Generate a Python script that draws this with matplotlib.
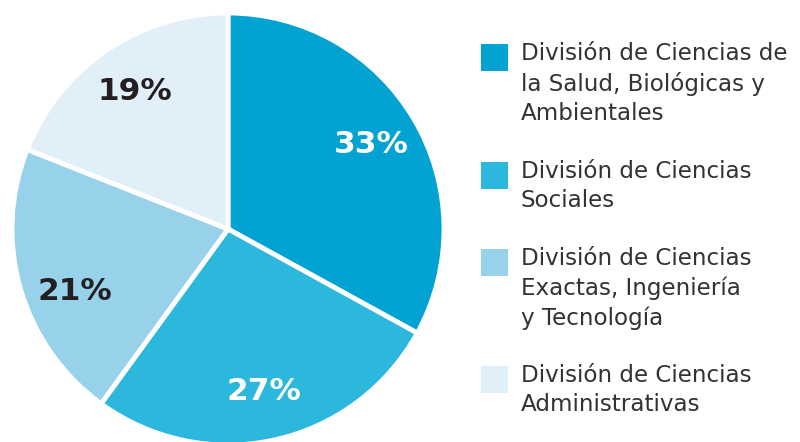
import matplotlib.pyplot as plt
from matplotlib.patches import Rectangle

# Data
shares = [33, 27, 21, 19]
labels = ['División de Ciencias de\nla Salud, Biológicas y\nAmbientales',
          'División de Ciencias\nSociales',
          'División de Ciencias\nExactas, Ingeniería\ny Tecnología',
          'División de Ciencias\nAdministrativas']
colors = ['#02a2d3', '#2cb7dd', '#98d1ea', '#e1f0f8']
pct_colors = ['white', 'white', '#231f20', '#231f20']

W, H = 800, 442
fig = plt.figure(figsize=(W / 100, H / 100), dpi=100)

# pie axes: centre (228, 229) px from top-left, radius 216 px
cx, cy, r = 228, 229, 216
ax = fig.add_axes([(cx - r) / W, (H - cy - r) / H, 2 * r / W, 2 * r / H])
wedges, texts, autotexts = ax.pie(
    shares, colors=colors, startangle=90, counterclock=False,
    autopct='%d%%', pctdistance=0.77,
    wedgeprops=dict(edgecolor='white', linewidth=3.5))
ax.set_xlim(-1, 1)
ax.set_ylim(-1, 1)
ax.set_aspect('equal')

for t, c in zip(autotexts, pct_colors):
    t.set_color(c)
    t.set_fontsize(22.5)
    t.set_fontweight('bold')
    t.set_family('DejaVu Sans')
autotexts[2].set_position((-0.71, -0.29))

# legend built by hand
sq = 27
item_y = [57, 175, 262, 379]   # first-line centres, px from top
for lab, col, y in zip(labels, colors, item_y):
    fig.patches.append(Rectangle((481 / W, (H - y - sq / 2) / H), sq / W, sq / H,
                                 transform=fig.transFigure, facecolor=col,
                                 edgecolor='none'))
    fig.text(521 / W, (H - y + 15) / H, lab, ha='left', va='top',
             fontsize=16.6, family='DejaVu Sans', color='#333333',
             linespacing=1.35)

fig.savefig('out.png', dpi=100)
